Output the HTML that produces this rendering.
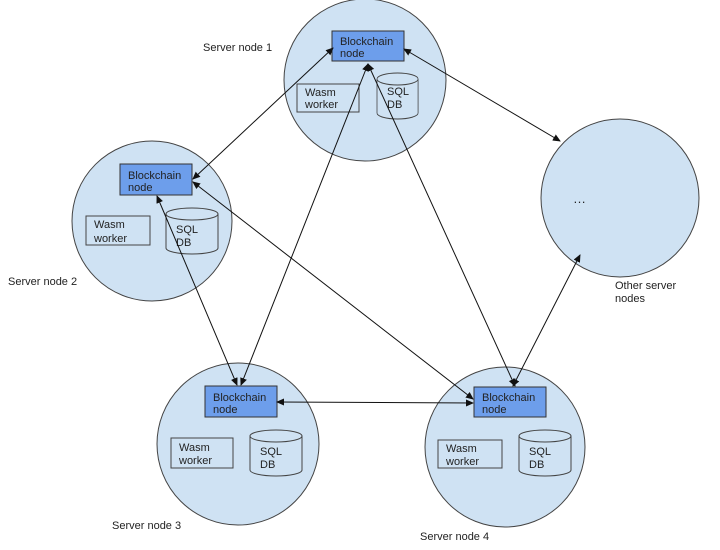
<!DOCTYPE html>
<html><head><style>body{margin:0;background:#fff}svg{display:block}text{font-family:"Liberation Sans",Arial,sans-serif;font-size:11px;fill:#222}</style></head><body>
<svg width="720" height="550" viewBox="0 0 720 550">
<defs><marker id="a" markerWidth="8" markerHeight="8" refX="7" refY="4" orient="auto-start-reverse" markerUnits="userSpaceOnUse"><path d="M0,0.5 L8,4 L0,7.5 z" fill="#111"/></marker>
<g id="cyl"><path d="M0,6 L0,40 A26,6 0 0 0 52,40 L52,6" fill="#cfe2f3" stroke="#444"/><ellipse cx="26" cy="6" rx="26" ry="6" fill="#cfe2f3" stroke="#444"/></g></defs>
<g fill="#cfe2f3" stroke="#444" stroke-width="1">
<circle cx="365" cy="80" r="81"/><circle cx="152" cy="221" r="80"/><circle cx="238" cy="444" r="81"/><circle cx="505" cy="447" r="80"/><circle cx="620" cy="198" r="79"/>
</g>
<g fill="#6d9eeb" stroke="#333">
<rect x="332" y="31" width="72" height="30"/><rect x="120" y="164" width="72" height="31"/><rect x="205" y="386" width="72" height="31"/><rect x="474" y="387" width="72" height="30"/>
</g>
<g fill="#cfe2f3" stroke="#444">
<rect x="297" y="84" width="62" height="28"/><rect x="86" y="216" width="64" height="29"/><rect x="171" y="438" width="62" height="30"/><rect x="438" y="440" width="64" height="28"/>
</g>
<use href="#cyl" transform="translate(377,73) scale(0.79,1)"/>
<use href="#cyl" x="166" y="208"/><use href="#cyl" x="250" y="430"/><use href="#cyl" x="519" y="430"/>
<text x="340" y="45">Blockchain</text><text x="340" y="57">node</text>
<text x="128" y="179">Blockchain</text><text x="128" y="191">node</text>
<text x="213" y="401">Blockchain</text><text x="213" y="413">node</text>
<text x="482" y="401">Blockchain</text><text x="482" y="413">node</text>
<text x="305" y="96">Wasm</text><text x="305" y="108">worker</text>
<text x="94" y="228">Wasm</text><text x="94" y="242">worker</text>
<text x="179" y="451">Wasm</text><text x="179" y="464">worker</text>
<text x="446" y="452">Wasm</text><text x="446" y="465">worker</text>
<text x="387" y="95">SQL</text><text x="387" y="108">DB</text>
<text x="176" y="233">SQL</text><text x="176" y="246">DB</text>
<text x="260" y="455">SQL</text><text x="260" y="468">DB</text>
<text x="529" y="455">SQL</text><text x="529" y="468">DB</text>
<text x="203" y="51">Server node 1</text><text x="8" y="285">Server node 2</text>
<text x="112" y="529">Server node 3</text><text x="420" y="540">Server node 4</text>
<text x="615" y="289">Other server</text><text x="615" y="302">nodes</text>
<text x="573" y="203" style="font-size:13px">…</text>
<g stroke="#111" stroke-width="1" fill="none" marker-start="url(#a)" marker-end="url(#a)">
<line x1="333" y1="48" x2="193" y2="179"/>
<line x1="404" y1="49" x2="560" y2="141"/>
<line x1="368" y1="64" x2="241" y2="385"/>
<line x1="368" y1="64" x2="515" y2="386"/>
<line x1="193" y1="182" x2="473" y2="399"/>
<line x1="157" y1="196" x2="237" y2="385"/>
<line x1="277" y1="402" x2="473" y2="403"/>
<line x1="580" y1="255" x2="513" y2="386"/>
</g>
</svg>
</body></html>
